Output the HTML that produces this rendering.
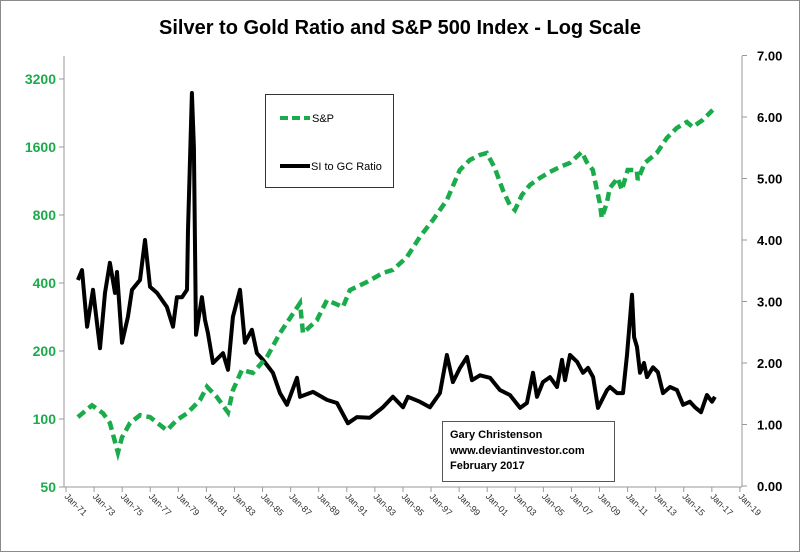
<!DOCTYPE html>
<html><head><meta charset="utf-8"><style>
body{margin:0;background:#fff;}
svg{display:block;font-family:"Liberation Sans",sans-serif;}
</style></head><body>
<svg id="chart" width="800" height="552" viewBox="0 0 800 552">
<rect x="0.5" y="0.5" width="799" height="551" fill="#fff" stroke="#8a8a8a"/>
<text x="400" y="34" text-anchor="middle" font-size="20" font-weight="bold" fill="#000">Silver to Gold Ratio and S&amp;P 500 Index - Log Scale</text>
<g id="axes"></g>
<g id="series"></g>
<g>
<rect x="265.5" y="94.5" width="128" height="93" fill="#fff" stroke="#333"/>
<line x1="280" y1="118" x2="310" y2="118" stroke="#1aab4b" stroke-width="4" stroke-dasharray="8,4"/>
<text x="312" y="122" font-size="11">S&amp;P</text>
<line x1="280" y1="166" x2="310" y2="166" stroke="#000" stroke-width="4"/>
<text x="311" y="170" font-size="11">SI to GC Ratio</text>
</g>
<g>
<rect x="442.5" y="421.5" width="172" height="60" fill="#fff" stroke="#555"/>
<text x="450" y="438" font-size="11" font-weight="bold">Gary Christenson</text>
<text x="450" y="454" font-size="11" font-weight="bold">www.deviantinvestor.com</text>
<text x="450" y="469" font-size="11" font-weight="bold">February 2017</text>
</g>
</svg>
<script>
const leftTicks=[50,100,200,400,800,1600,3200];
const rightTicks=[0,1,2,3,4,5,6,7];
const xTickYears=[1971,1973,1975,1977,1979,1981,1983,1985,1987,1989,1991,1993,1995,1997,1999,2001,2003,2005,2007,2009,2011,2013,2015,2017,2019];
const spYears=[1971.85,1972.85,1973.64,1974.13,1974.7,1974.99,1975.56,1976.27,1976.98,1978.19,1978.9,1979.62,1980.54,1981.04,1981.75,1982.54,1982.89,1983.53,1984.31,1985.31,1986.24,1987.67,1987.88,1988.87,1989.59,1990.72,1991.22,1992.43,1993.57,1994.28,1995.28,1996.2,1997.13,1998.13,1999.05,1999.76,2000.47,2000.97,2001.54,2002.11,2002.61,2002.97,2003.47,2004.04,2004.75,2005.46,2006.17,2006.88,2007.74,2008.09,2008.52,2008.81,2009.02,2009.16,2009.52,2009.73,2010.3,2010.59,2011.01,2011.65,2011.73,2012.22,2013.08,2013.79,2014.5,2015.22,2015.64,2016.35,2017.06];
const spValues=[102,115,106,96,71,83,96,104,102,89,99,106,121,139,125,107,134,165,160,188,240,326,240,274,336,313,372,404,443,457,521,639,760,932,1266,1402,1474,1505,1292,1032,886,842,981,1086,1166,1240,1305,1359,1520,1373,1266,1032,904,776,904,1053,1166,1032,1266,1266,1143,1359,1505,1753,1942,2064,1962,2107,2333];
const ratioYears=[1971.85,1972.14,1972.5,1972.92,1973.42,1973.78,1974.13,1974.49,1974.63,1974.99,1975.41,1975.7,1976.27,1976.63,1976.98,1977.48,1978.19,1978.62,1978.9,1979.26,1979.62,1979.69,1979.97,1980.11,1980.26,1980.68,1980.9,1981.11,1981.47,1982.18,1982.54,1982.89,1983.39,1983.74,1984.24,1984.6,1985.03,1985.74,1986.24,1986.74,1987.45,1987.67,1988.59,1989.59,1990.3,1991.08,1991.72,1992.64,1993.57,1994.28,1995.0,1995.35,1996.2,1996.92,1997.63,1998.13,1998.56,1999.06,1999.56,1999.92,2000.49,2001.2,2001.91,2002.62,2003.34,2003.83,2004.26,2004.55,2004.97,2005.47,2005.97,2006.33,2006.54,2006.9,2007.4,2007.82,2008.18,2008.54,2008.89,2009.53,2009.75,2010.25,2010.67,2010.96,2011.31,2011.46,2011.67,2011.88,2012.17,2012.38,2012.81,2013.16,2013.52,2014.02,2014.52,2014.95,2015.44,2015.8,2016.23,2016.65,2017.01,2017.22];
const ratioValues=[3.35,3.51,2.59,3.19,2.24,3.14,3.63,3.14,3.48,2.33,2.75,3.19,3.35,4.0,3.24,3.14,2.91,2.59,3.07,3.07,3.19,4.16,6.39,5.51,2.46,3.07,2.7,2.49,2.0,2.16,1.89,2.75,3.19,2.33,2.54,2.16,2.05,1.84,1.51,1.32,1.76,1.45,1.53,1.4,1.35,1.02,1.12,1.11,1.28,1.45,1.28,1.45,1.37,1.28,1.51,2.13,1.69,1.92,2.1,1.72,1.8,1.76,1.56,1.48,1.27,1.35,1.84,1.45,1.69,1.77,1.61,2.05,1.72,2.13,2.02,1.84,1.92,1.77,1.27,1.56,1.61,1.51,1.51,2.13,3.11,2.42,2.26,1.84,2.0,1.77,1.93,1.85,1.51,1.61,1.56,1.32,1.37,1.28,1.2,1.48,1.37,1.45];

const NS="http://www.w3.org/2000/svg";
const X0=66,PXY=14.04,LEFT=64,RIGHT=742,BOTTOM=487;
function xs(y){return X0+(y-1971)*PXY;}
function yl(v){return 419-68*Math.log2(v/100);}
function yr(r){return 486-61.5*r;}
function mk(tag,attrs,parent){const e=document.createElementNS(NS,tag);for(const k in attrs)e.setAttribute(k,attrs[k]);parent.appendChild(e);return e;}
const axes=document.getElementById('axes'),series=document.getElementById('series');

let e=mk('line',{x1:LEFT,y1:56,x2:LEFT,y2:BOTTOM,stroke:'#999'},axes);


e=mk('line',{x1:RIGHT,y1:56,x2:RIGHT,y2:BOTTOM,stroke:'#999'},axes);


e=mk('line',{x1:LEFT-4,y1:BOTTOM,x2:RIGHT,y2:BOTTOM,stroke:'#999'},axes);



leftTicks.forEach(v=>{const y=yl(v);
 let t=mk('line',{x1:LEFT-5,y1:y,x2:LEFT,y2:y,stroke:'#999'},axes);
 
 
 let l=mk('text',{x:LEFT-8,y:y+5,'text-anchor':'end','font-size':14,'font-weight':'bold',fill:'#1aab4b'},axes);
 l.textContent=v;
 
 
});
rightTicks.forEach(r=>{const y=yr(r);
 let t=mk('line',{x1:RIGHT,y1:y,x2:RIGHT+5,y2:y,stroke:'#999'},axes);
 
 
 let l=mk('text',{x:RIGHT+15,y:y+5,'font-size':13,'font-weight':'bold',fill:'#000'},axes);
 l.textContent=r.toFixed(2);
 
 
});
xTickYears.forEach(yr0=>{const x=xs(yr0);
 let t=mk('line',{x1:x,y1:BOTTOM,x2:x,y2:BOTTOM+5,stroke:'#999'},axes);
 
 
 let l=mk('text',{x:x-2,y:BOTTOM+10,'font-size':9,fill:'#333',transform:`rotate(45 ${x-2} ${BOTTOM+10})`},axes);
 l.textContent='Jan-'+String(yr0%100).padStart(2,'0');
 
 
});

let d=ratioYears.map((y,i)=>(i?'L':'M')+xs(y).toFixed(1)+','+yr(ratioValues[i]).toFixed(1)).join('');
let rl=mk('path',{d:d,fill:'none',stroke:'#000','stroke-width':4,'stroke-linejoin':'round'},series);


d=spYears.map((y,i)=>(i?'L':'M')+xs(y).toFixed(1)+','+yl(spValues[i]).toFixed(1)).join('');
let sl=mk('path',{d:d,fill:'none',stroke:'#1aab4b','stroke-width':4.5,'stroke-dasharray':'9,5'},series);


</script>
</body></html>
